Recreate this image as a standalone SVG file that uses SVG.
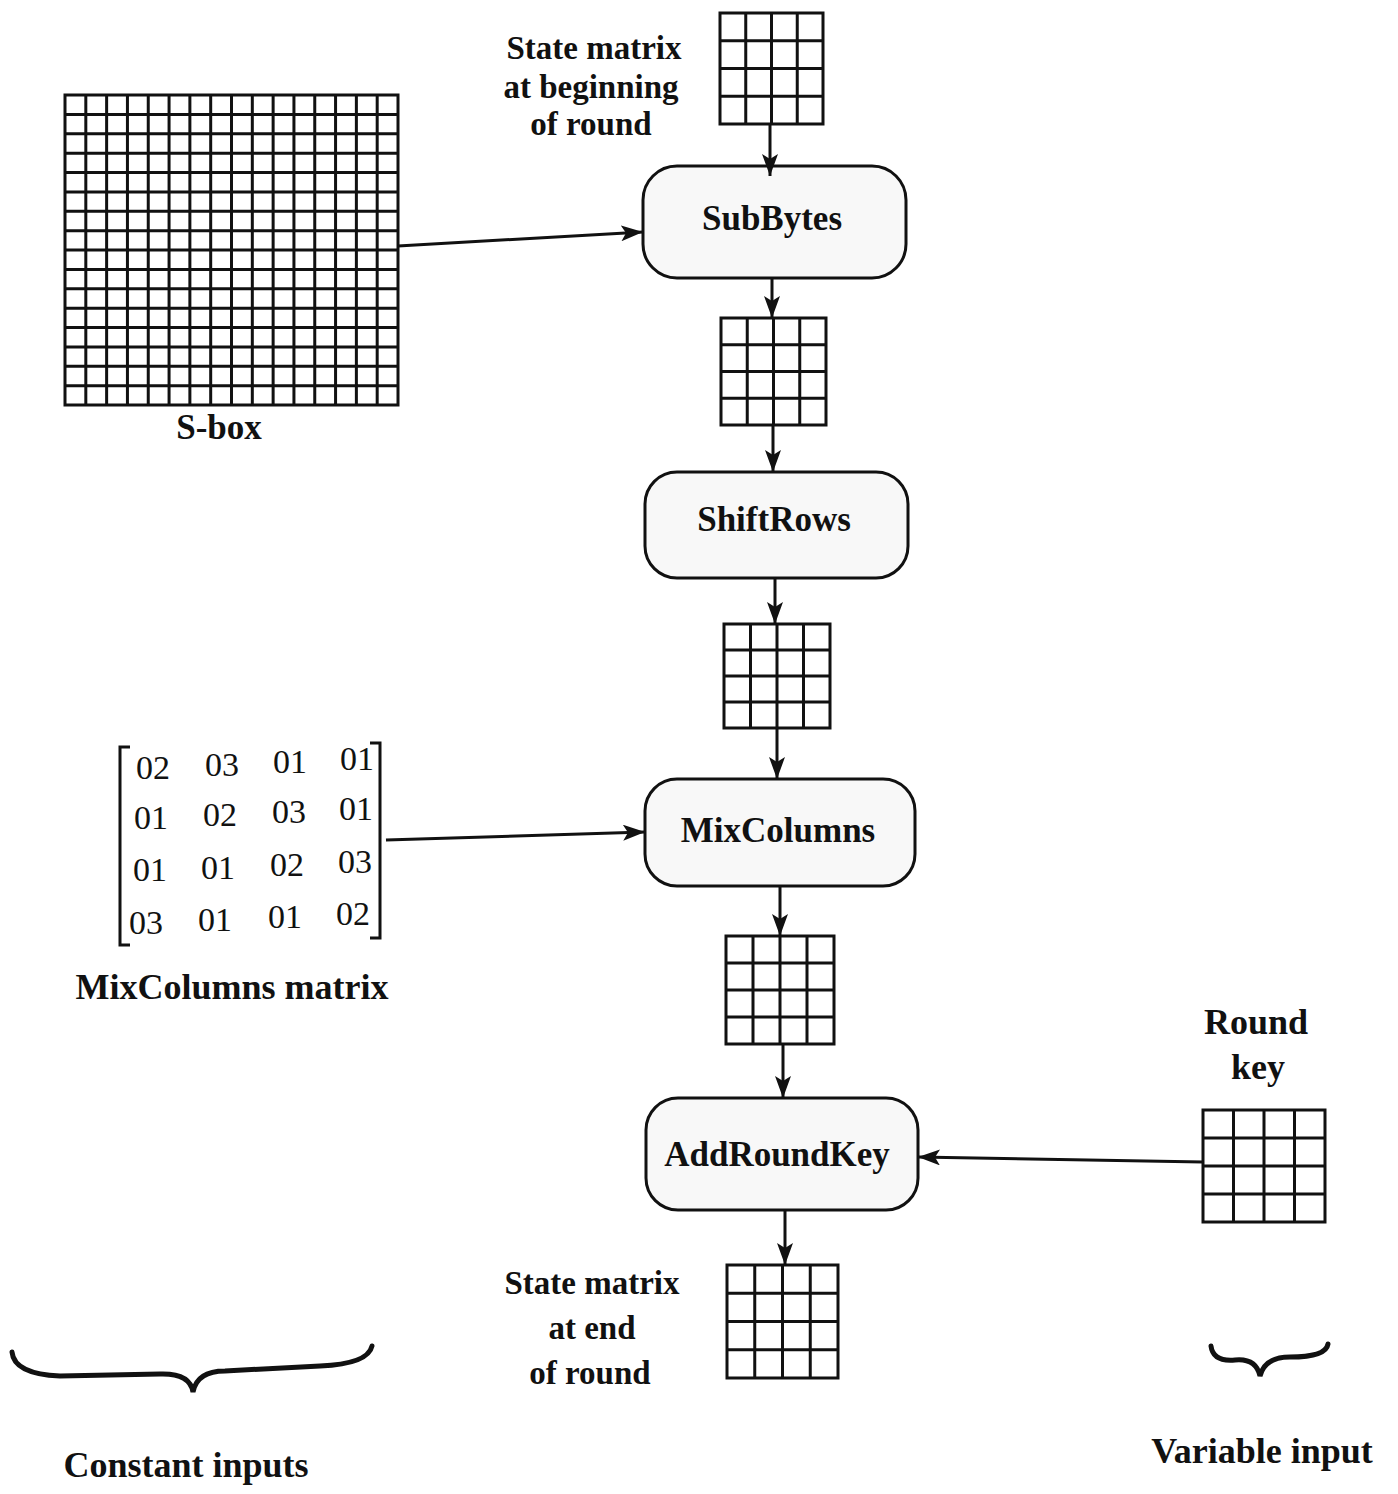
<svg xmlns="http://www.w3.org/2000/svg" width="1398" height="1494" viewBox="0 0 1398 1494">
  <defs>
    <style>
      .lbl { font-family: "Liberation Serif", "Times New Roman", serif; font-weight: bold; font-size: 33px; fill: #111; text-anchor: middle; }
      .op { font-size: 35px; }
      .big { font-size: 36px; }
      .num { font-family: "Liberation Serif", "Times New Roman", serif; font-size: 34px; fill: #111; text-anchor: middle; }
      .box { fill: #f8f8f8; stroke: #111; stroke-width: 3; }
      .grid { fill: none; stroke: #111; stroke-width: 3; vector-effect: non-scaling-stroke; }
      .wire { fill: none; stroke: #111; stroke-width: 3; }
      .brace { fill: none; stroke: #111; stroke-width: 5; stroke-linecap: round; }
    </style>
    <marker id="head" viewBox="0 0 22 16" refX="22" refY="8" markerWidth="22" markerHeight="16" markerUnits="userSpaceOnUse" orient="auto">
      <path d="M0 0 L22 8 L0 16 L5 8 Z" fill="#111"/>
    </marker>
  </defs>
  <rect width="1398" height="1494" fill="#fff"/>

  <!-- constant input: 16x16 S-box table -->
  <g id="sbox">
    <path class="grid" transform="translate(65,95) scale(20.8125,19.375)" d="M0 0H16V16H0Z M1 0V16 M2 0V16 M3 0V16 M4 0V16 M5 0V16 M6 0V16 M7 0V16 M8 0V16 M9 0V16 M10 0V16 M11 0V16 M12 0V16 M13 0V16 M14 0V16 M15 0V16 M0 1H16 M0 2H16 M0 3H16 M0 4H16 M0 5H16 M0 6H16 M0 7H16 M0 8H16 M0 9H16 M0 10H16 M0 11H16 M0 12H16 M0 13H16 M0 14H16 M0 15H16"/>
    <text class="lbl op" x="219" y="439">S-box</text>
  </g>

  <!-- state at start of round -->
  <g id="state-in">
    <path class="grid" transform="translate(720,13) scale(25.75,27.75)" d="M0 0H4V4H0Z M1 0V4 M2 0V4 M3 0V4 M0 1H4 M0 2H4 M0 3H4"/>
    <text class="lbl" x="594" y="59">State matrix</text>
    <text class="lbl" x="591" y="98">at beginning</text>
    <text class="lbl" x="591" y="135">of round</text>
  </g>

  <g id="subbytes">
    <rect class="box" x="643" y="166" width="263" height="112" rx="34"/>
    <text class="lbl op" x="772" y="230">SubBytes</text>
  </g>

  <g id="state-1">
    <path class="grid" transform="translate(721,318) scale(26.25,26.75)" d="M0 0H4V4H0Z M1 0V4 M2 0V4 M3 0V4 M0 1H4 M0 2H4 M0 3H4"/>
  </g>

  <g id="shiftrows">
    <rect class="box" x="645" y="472" width="263" height="106" rx="32"/>
    <text class="lbl op" x="774" y="531">ShiftRows</text>
  </g>

  <g id="state-2">
    <path class="grid" transform="translate(724,624) scale(26.5,26)" d="M0 0H4V4H0Z M1 0V4 M2 0V4 M3 0V4 M0 1H4 M0 2H4 M0 3H4"/>
  </g>

  <!-- constant input: MixColumns coefficient matrix -->
  <g id="mixmatrix">
    <path class="wire" stroke-width="2.5" d="M130 747 H120 V945 H130"/>
    <path class="wire" stroke-width="2.5" d="M370 743 H380 V938 H370"/>
    <text class="num" x="153" y="779">02</text>
    <text class="num" x="222" y="776">03</text>
    <text class="num" x="290" y="773">01</text>
    <text class="num" x="357" y="770">01</text>
    <text class="num" x="151" y="829">01</text>
    <text class="num" x="220" y="826">02</text>
    <text class="num" x="289" y="823">03</text>
    <text class="num" x="356" y="820">01</text>
    <text class="num" x="150" y="881">01</text>
    <text class="num" x="218" y="879">01</text>
    <text class="num" x="287" y="876">02</text>
    <text class="num" x="355" y="873">03</text>
    <text class="num" x="146" y="934">03</text>
    <text class="num" x="215" y="931">01</text>
    <text class="num" x="285" y="928">01</text>
    <text class="num" x="353" y="925">02</text>
    <text class="lbl big" x="232" y="999">MixColumns matrix</text>
  </g>

  <g id="mixcolumns">
    <rect class="box" x="645" y="779" width="270" height="107" rx="32"/>
    <text class="lbl op" x="778" y="842">MixColumns</text>
  </g>

  <g id="state-3">
    <path class="grid" transform="translate(726,936) scale(27,27)" d="M0 0H4V4H0Z M1 0V4 M2 0V4 M3 0V4 M0 1H4 M0 2H4 M0 3H4"/>
  </g>

  <g id="addroundkey">
    <rect class="box" x="646" y="1098" width="272" height="112" rx="32"/>
    <text class="lbl op" x="777" y="1166">AddRoundKey</text>
  </g>

  <!-- variable input: round key -->
  <g id="roundkey">
    <path class="grid" transform="translate(1203,1110) scale(30.5,28)" d="M0 0H4V4H0Z M1 0V4 M2 0V4 M3 0V4 M0 1H4 M0 2H4 M0 3H4"/>
    <text class="lbl big" x="1256" y="1034">Round</text>
    <text class="lbl big" x="1258" y="1079">key</text>
  </g>

  <!-- state at end of round -->
  <g id="state-out">
    <path class="grid" transform="translate(727,1265) scale(27.75,28.25)" d="M0 0H4V4H0Z M1 0V4 M2 0V4 M3 0V4 M0 1H4 M0 2H4 M0 3H4"/>
    <text class="lbl" x="592" y="1294">State matrix</text>
    <text class="lbl" x="592" y="1339">at end</text>
    <text class="lbl" x="590" y="1384">of round</text>
  </g>

  <!-- braces grouping the inputs -->
  <g id="constant-inputs">
    <path class="brace" d="M12 1352 Q14 1374 60 1376 L160 1374 Q190 1373 193 1392 Q197 1371 225 1371 L320 1366 Q368 1364 372 1346"/>
    <text class="lbl big" x="186" y="1477">Constant inputs</text>
  </g>
  <g id="variable-input">
    <path class="brace" d="M1211 1346 Q1213 1362 1235 1360 Q1256 1358 1260 1376 Q1265 1357 1290 1357 Q1326 1357 1328 1344"/>
    <text class="lbl big" x="1262" y="1463">Variable input</text>
  </g>

  <g id="connectors">
    <path class="wire" marker-end="url(#head)" d="M770 125 V176"/>
    <path class="wire" marker-end="url(#head)" d="M398 246 L643 232"/>
    <path class="wire" marker-end="url(#head)" d="M772 278 V318"/>
    <path class="wire" marker-end="url(#head)" d="M773 425 V472"/>
    <path class="wire" marker-end="url(#head)" d="M775 578 V624"/>
    <path class="wire" marker-end="url(#head)" d="M777 728 V779"/>
    <path class="wire" marker-end="url(#head)" d="M386 840 L645 832"/>
    <path class="wire" marker-end="url(#head)" d="M780 886 V936"/>
    <path class="wire" marker-end="url(#head)" d="M783 1044 V1098"/>
    <path class="wire" marker-end="url(#head)" d="M1203 1162 L918 1157"/>
    <path class="wire" marker-end="url(#head)" d="M785 1210 V1265"/>
  </g>
</svg>
